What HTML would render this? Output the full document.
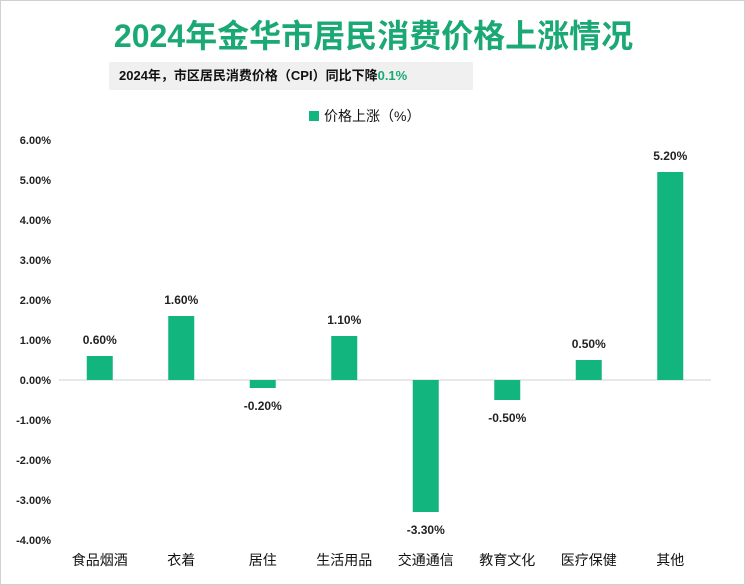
<!DOCTYPE html>
<html><head><meta charset="utf-8"><style>
body{margin:0;background:#fff;}
#wrap{position:relative;width:743px;height:583px;border:1px solid #d0d0d0;overflow:hidden;font-family:"Liberation Sans","Noto Sans CJK SC",sans-serif;}
#title{position:absolute;top:10px;left:0;width:745px;text-align:center;font-size:32px;font-weight:bold;color:#1aa874;}
#sub{position:absolute;left:108px;top:61px;width:364px;height:28px;background:#f0f0f0;font-size:13px;font-weight:bold;line-height:28px;padding-left:10px;box-sizing:border-box;color:#111;}
</style></head><body>
<div id="wrap">
<div id="title">2024年金华市居民消费价格上涨情况</div>
<div id="sub">2024年，市区居民消费价格（CPI）同比下降<span style="color:#1aa874">0.1%</span></div>
<svg id="chart" width="745" height="585" style="position:absolute;left:0;top:0"></svg>
</div>
<script>
const categories=["食品烟酒","衣着","居住","生活用品","交通通信","教育文化","医疗保健","其他"];
const values=[0.6,1.6,-0.2,1.1,-3.3,-0.5,0.5,5.2];
const ticks=[6,5,4,3,2,1,0,-1,-2,-3,-4];
const svg=document.getElementById('chart');
const NS='http://www.w3.org/2000/svg';
const x0=58,x1=710,yTop=139,yBot=539,vMax=6,vMin=-4;
function y(v){return yTop+(vMax-v)/(vMax-vMin)*(yBot-yTop);}
const bw=(x1-x0)/categories.length;
function xc(i){return x0+bw*(i+0.5);}
function el(t,a,txt){const e=document.createElementNS(NS,t);for(const k in a)e.setAttribute(k,a[k]);if(txt!=null)e.textContent=txt;svg.appendChild(e);return e;}
ticks.forEach(t=>{
 const e=el('text',{x:50,y:y(t)+4,'text-anchor':'end','font-size':11,'font-weight':'bold',fill:'#222'},t.toFixed(2)+'%');
 
 
});
const ax=el('line',{x1:x0,x2:x1,y1:y(0),y2:y(0),stroke:'#d0d0d0','stroke-width':1});


values.forEach((v,i)=>{
 const top=y(Math.max(v,0)),h=Math.abs(y(v)-y(0));
 const r=el('rect',{x:xc(i)-13,y:top,width:26,height:h,fill:'#12b57e'});
 
 
 const ly=v>=0?y(v)-12:y(v)+22;
 const l=el('text',{x:xc(i),y:ly,'text-anchor':'middle','font-size':12,'font-weight':'bold',fill:'#222'},v.toFixed(2)+'%');
 
 
 const c=el('text',{x:xc(i),y:564,'text-anchor':'middle','font-size':14,fill:'#111'},categories[i]);
 
 
});
const lg=el('rect',{x:308,y:110,width:10,height:10,fill:'#12b57e'});


const lt=el('text',{x:323,y:120,'font-size':14,fill:'#111'},'价格上涨（%）');


</script>
</body></html>
